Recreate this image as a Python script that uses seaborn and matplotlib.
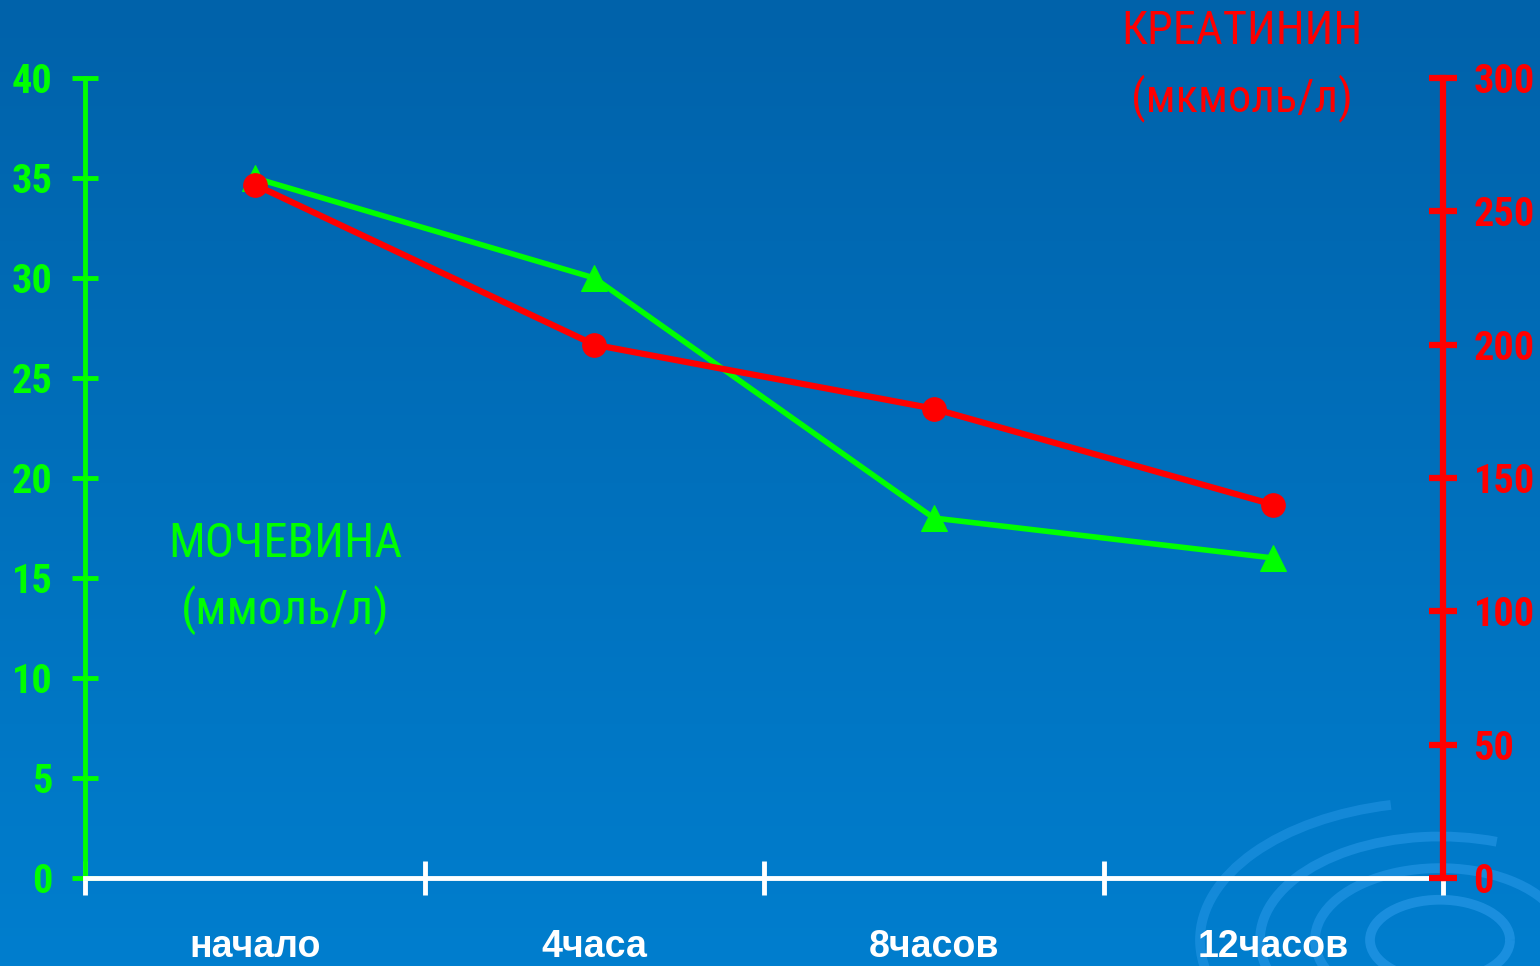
import numpy as np
import pandas as pd
import seaborn as sns
import matplotlib
matplotlib.use("Agg")
import matplotlib.pyplot as plt
from matplotlib.patches import Arc

# ---- data ----
categories = ["начало", "4часа", "8часов", "12часов"]
urea = [35, 30, 18, 16]              # МОЧЕВИНА (ммоль/л), left axis
creatinine = [260, 200, 176, 140]    # КРЕАТИНИН (мкмоль/л), right axis
left_ticks = [0, 5, 10, 15, 20, 25, 30, 35, 40]
right_ticks = [0, 50, 100, 150, 200, 250, 300]

sns.set_theme(style="white")
NARROW = ['Roboto Condensed', 'PT Sans Narrow', 'Liberation Sans', 'DejaVu Sans']
WIDE = ['Liberation Sans', 'DejaVu Sans']
plt.rcParams['font.family'] = NARROW

GREEN = "#00FF00"
RED = "#FF0000"
W, H = 1540, 966
fig = plt.figure(figsize=(W / 100, H / 100), dpi=100)

# background gradient
bg = fig.add_axes([0, 0, 1, 1])
top = np.array([0, 98, 170]) / 255
bot = np.array([0, 126, 206]) / 255
t = np.linspace(0, 1, 256)[:, None]
grad = top[None, :] * (1 - t) + bot[None, :] * t
grad = np.repeat(grad[:, None, :], 2, axis=1)
bg.imshow(grad, aspect="auto", extent=[0, W, H, 0])
bg.set_xlim(0, W)
bg.set_ylim(H, 0)
bg.axis("off")
# decorative swirls bottom-right
for r, th1, th2, a in [(70, 0, 360, 0.45), (125, 120, 380, 0.4), (180, 100, 300, 0.4),
                       (240, 110, 250, 0.35), (300, 80, 170, 0.3), (1000, 120, 150, 0.15)]:
    bg.add_patch(Arc((1440, 940), 2 * r, 1.15 * r, theta1=th1, theta2=th2,
                     color="#3aa6f5", lw=7, alpha=a))

ax = fig.add_axes([85 / W, 1 - 878 / H, 1358 / W, 800 / H])
ax.patch.set_alpha(0)
ax2 = ax.twinx()
ax2.patch.set_alpha(0)

df_u = pd.DataFrame({"cat": categories, "val": urea})
df_c = pd.DataFrame({"cat": categories, "val": creatinine})

sns.lineplot(data=df_u, x="cat", y="val", ax=ax, color=GREEN, lw=4, sort=False,
             marker="^", markersize=19, markeredgecolor=GREEN, zorder=3)
sns.lineplot(data=df_c, x="cat", y="val", ax=ax2, color=RED, lw=4.5, sort=False,
             marker="o", markersize=17, markeredgecolor=RED, zorder=4)

ax.set_xlim(-0.5, 3.5)
ax.set_ylim(0, 40)
ax2.set_ylim(0, 300)
ax.set_xlabel("")
ax.set_ylabel("")
ax2.set_ylabel("")

ax.set_yticks(left_ticks)
ax2.set_yticks(right_ticks)
ax.set_xticks(range(len(categories)))
ax.set_xticklabels(categories)
ax.set_xticks([-0.5, 0.5, 1.5, 2.5, 3.5], minor=True)

for a in (ax, ax2):
    for s in a.spines.values():
        s.set_visible(False)
    a.grid(False)

ax.spines["left"].set_visible(True)
ax.spines["left"].set_color(GREEN)
ax.spines["left"].set_linewidth(3.5)
ax.spines["bottom"].set_visible(True)
ax.spines["bottom"].set_color("white")
ax.spines["bottom"].set_linewidth(3.5)
ax.spines["bottom"].set_zorder(5)
ax2.spines["right"].set_visible(True)
ax2.spines["right"].set_color(RED)
ax2.spines["right"].set_linewidth(4.5)

ax.tick_params(axis="y", which="major", left=True, direction="inout", length=19, width=3.5,
               color=GREEN, labelcolor=GREEN, labelsize=29, pad=14)
ax2.tick_params(axis="y", which="major", right=True, direction="inout", length=20, width=4.5,
                color=RED, labelcolor=RED, labelsize=29, pad=12)
ax.tick_params(axis="x", which="major", bottom=False, length=0, labelcolor="white",
               labelsize=27, pad=37)
ax.tick_params(axis="x", which="minor", bottom=True, direction="inout", length=24, width=3.5,
               color="white")
for lab in ax.get_yticklabels() + ax2.get_yticklabels():
    lab.set_fontweight("bold")
    lab.set_family(NARROW)
for lab in ax.get_xticklabels():
    lab.set_family(WIDE)
    lab.set_fontweight("bold")

# axis titles
def ftext(x, y, s, color, size):
    fig.text(x / W, 1 - y / H, s, color=color, fontsize=size, ha="center", va="center",
             family=NARROW)

ftext(1242, 31, "КРЕАТИНИН", RED, 33.5)
ftext(1242, 98, "(мкмоль/л)", RED, 33.5)
ftext(285, 544, "МОЧЕВИНА", GREEN, 35)
ftext(285, 610, "(ммоль/л)", GREEN, 35)

fig.savefig("out.png", dpi=100)
